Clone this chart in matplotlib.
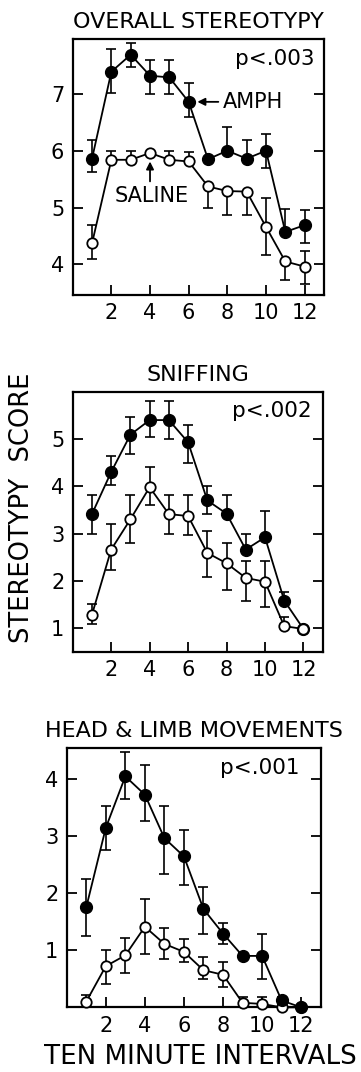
import numpy as np
import matplotlib.pyplot as plt

intervals = np.arange(1, 13)

# overall stereotypy
overall_amph = [5.86, 7.39, 7.69, 7.32, 7.29, 6.86, 5.85, 6.00, 5.86, 6.00, 4.57, 4.69]
overall_amph_up = [0.32, 0.40, 0.21, 0.28, 0.30, 0.33, 0, 0.41, 0.32, 0.29, 0.41, 0.27]
overall_amph_dn = [0.24, 0.38, 0.21, 0.32, 0.29, 0.26, 0, 0, 0, 0.31, 0, 0.32]
overall_sal = [4.37, 5.84, 5.84, 5.96, 5.84, 5.81, 5.37, 5.29, 5.28, 4.66, 4.05, 3.96]
overall_sal_up = [0.32, 0.16, 0.16, 0, 0.16, 0.17, 0, 0, 0, 0.51, 0, 0.28]
overall_sal_dn = [0.28, 0, 0, 0, 0, 0, 0.37, 0.43, 0.42, 0.49, 0.33, 0.31]

# sniffing
sniff_amph = [3.41, 4.30, 5.09, 5.40, 5.40, 4.93, 3.70, 3.42, 2.66, 2.92, 1.58, 0.98]
sniff_amph_up = [0.40, 0.33, 0.38, 0.41, 0.40, 0.37, 0.30, 0.39, 0.34, 0.56, 0.19, 0]
sniff_amph_dn = [0.41, 0.28, 0.40, 0.36, 0.40, 0.44, 0.29, 0, 0, 0, 0, 0]
sniff_sal = [1.28, 2.66, 3.30, 3.98, 3.41, 3.37, 2.59, 2.37, 2.06, 1.98, 1.04, 0.98]
sniff_sal_up = [0.22, 0.54, 0.51, 0.42, 0.40, 0.44, 0.47, 0.43, 0.35, 0.44, 0.20, 0]
sniff_sal_dn = [0.20, 0.43, 0.50, 0.38, 0.41, 0.41, 0.51, 0.57, 0.48, 0.53, 0, 0]

# head & limb movements
head_amph = [1.75, 3.14, 4.04, 3.72, 2.96, 2.64, 1.72, 1.29, 0.90, 0.90, 0.12, 0.0]
head_amph_up = [0.49, 0.39, 0.43, 0.52, 0.56, 0.46, 0.38, 0.19, 0.05, 0.38, 0.06, 0]
head_amph_dn = [0.50, 0.39, 0.39, 0.46, 0.62, 0.50, 0.44, 0.19, 0.05, 0.41, 0.06, 0]
head_sal = [0.10, 0.72, 0.91, 1.41, 1.11, 0.97, 0.65, 0.57, 0.08, 0.06, 0.0, 0.0]
head_sal_up = [0.11, 0.29, 0.31, 0.48, 0.28, 0.22, 0.23, 0.23, 0.10, 0.12, 0, 0]
head_sal_dn = [0, 0.32, 0.31, 0.48, 0.27, 0.17, 0.16, 0.22, 0, 0, 0, 0]

xticks = [2, 4, 6, 8, 10, 12]


def draw_errors(ax, ys, up, dn, z):
    ys = np.asarray(ys)
    up = np.asarray(up)
    dn = np.asarray(dn)
    m = up > 0
    if m.any():
        ax.errorbar(intervals[m], ys[m], yerr=[np.zeros(m.sum()), up[m]],
                    fmt='none', ecolor='k', elinewidth=1.2, capsize=3.8,
                    capthick=1.2, zorder=z, clip_on=False)
    m = dn > 0
    if m.any():
        ax.errorbar(intervals[m], ys[m], yerr=[dn[m], np.zeros(m.sum())],
                    fmt='none', ecolor='k', elinewidth=1.2, capsize=3.8,
                    capthick=1.2, zorder=z, clip_on=False)


def plot_panel(ax, amph, amph_up, amph_dn, sal, sal_up, sal_dn,
               ylim, yticks, title, ptext, px, saline_on_top=False):

    z_sal = 5 if saline_on_top else 3
    z_amph = 3 if saline_on_top else 5

    draw_errors(ax, amph, amph_up, amph_dn, z_amph - 1)
    draw_errors(ax, sal, sal_up, sal_dn, z_sal - 1)

    ax.plot(intervals, amph, color='k', lw=1.3, marker='o', ms=8.5,
            mfc='k', mec='k', zorder=z_amph, clip_on=False)
    ax.plot(intervals, sal, color='k', lw=1.3, marker='o', ms=7.5,
            mfc='white', mec='k', mew=1.3, zorder=z_sal, clip_on=False)

    ax.set_xlim(0, 13)
    ax.set_ylim(*ylim)
    ax.set_xticks(xticks)
    ax.set_yticks(yticks)
    ax.tick_params(axis='both', direction='in', length=7, width=1.3,
                   right=True, top=False, labelsize=15)
    ax.tick_params(axis='x', pad=6)
    ax.tick_params(axis='y', pad=6)
    for s in ax.spines.values():
        s.set_linewidth(1.6)

    ax.set_title(title, fontsize=16, pad=8)
    ax.text(px, 0.925, ptext, transform=ax.transAxes, ha='right',
            va='center', fontsize=15.5)


fig = plt.figure(figsize=(3.61, 10.72), dpi=100)

ax1 = fig.add_axes([0.2014, 0.7248, 0.696, 0.2385])
ax2 = fig.add_axes([0.2014, 0.3921, 0.6925, 0.2425])
ax3 = fig.add_axes([0.1848, 0.0603, 0.7036, 0.2416])

plot_panel(ax1, overall_amph, overall_amph_up, overall_amph_dn,
           overall_sal, overall_sal_up, overall_sal_dn,
           (3.46, 7.96), [4, 5, 6, 7], 'OVERALL STEREOTYPY', 'p<.003', 0.964)
plot_panel(ax2, sniff_amph, sniff_amph_up, sniff_amph_dn,
           sniff_sal, sniff_sal_up, sniff_sal_dn,
           (0.5, 6.0), [1, 2, 3, 4, 5], 'SNIFFING', 'p<.002', 0.957,
           saline_on_top=True)
plot_panel(ax3, head_amph, head_amph_up, head_amph_dn,
           head_sal, head_sal_up, head_sal_dn,
           (0, 4.53), [1, 2, 3, 4], 'HEAD & LIMB MOVEMENTS', 'p<.001', 0.918)

# group labels in the first panel
ax1.annotate('AMPH', xy=(6.45, 6.86), xytext=(7.75, 6.86), va='center',
             ha='left', fontsize=15,
             arrowprops=dict(arrowstyle='-|>', color='k', lw=1.3,
                             mutation_scale=11, shrinkA=1, shrinkB=0))
ax1.annotate('', xy=(4, 5.81), xytext=(4, 5.46),
             arrowprops=dict(arrowstyle='-|>', color='k', lw=1.3,
                             mutation_scale=11, shrinkA=0, shrinkB=0))
ax1.text(4.1, 5.21, 'SALINE', ha='center', va='center', fontsize=15)

fig.text(0.061, 0.526, 'STEREOTYPY  SCORE', rotation=90, ha='center',
         va='center', fontsize=18.5)
fig.text(0.554, 0.014, 'TEN MINUTE INTERVALS', ha='center', va='center',
         fontsize=18.8)

fig.savefig('out.png', dpi=100)
